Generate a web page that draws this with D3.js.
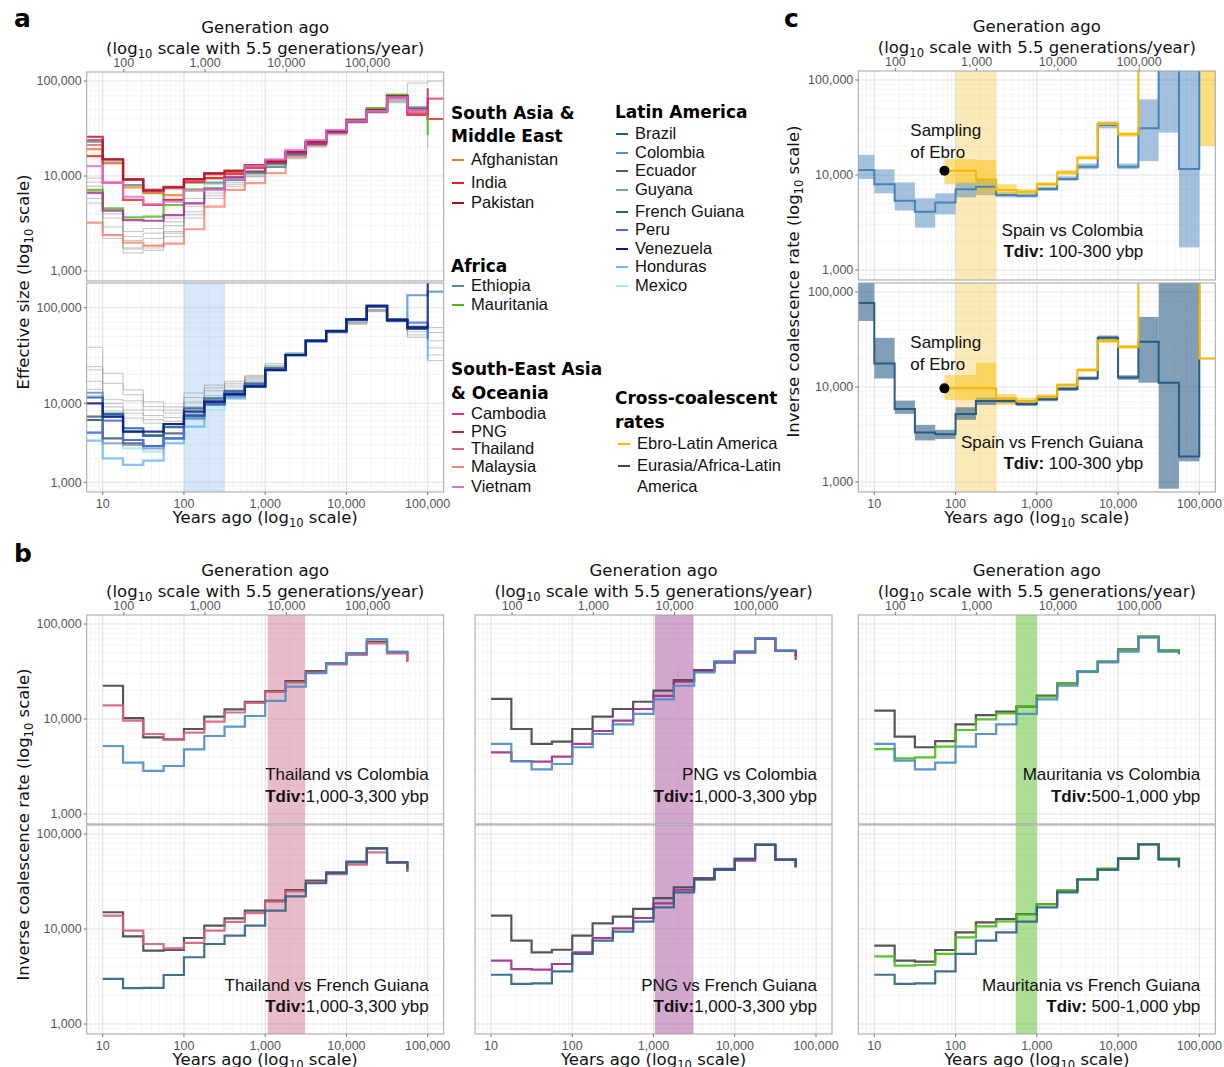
<!DOCTYPE html>
<html>
<head>
<meta charset="utf-8">
<script src="https://cdn.jsdelivr.net/npm/d3@7"></script>
<style>
  body { margin: 0; background: #fff; }
  svg { display: block; }
  text { font-family: "DejaVu Sans", sans-serif; fill: #111; }
  .tick { font-family: "Liberation Sans", Arial, sans-serif; font-size: 12.5px; fill: #555; }
  .atitle { font-size: 16.5px; fill: #111; }
  .note { font-family: "Liberation Sans", Arial, sans-serif; font-size: 17px; fill: #111; }
  .lgtitle { font-weight: bold; font-size: 17px; fill: #000; }
  .lgitem { font-family: "Liberation Sans", Arial, sans-serif; font-size: 16.5px; fill: #111; }
  .plabel { font-weight: bold; font-size: 25px; fill: #000; }
</style>
</head>
<body>
<svg id="fig" width="1224" height="1067"></svg>
<script>
// ---- shared axes ----
const binEdges = [5.6, 10, 17.8, 31.6, 56.2, 100, 178, 316, 562, 1000, 1780, 3160, 5620, 10000, 17800, 31600, 56200, 100000, 160000];
const yearTicks = [10, 100, 1000, 10000, 100000];
const genTicks = [100, 1000, 10000, 100000];
const rateTicks = [1000, 10000, 100000];
const gensPerYear = 5.5;

// ---- panel a, top facet: effective size, bins from 5.6 years ----
const neAfghanistan = [19200, 13600, 7600, 6580, 6300, 8700, 9500, 10700, 12500, 14700, 18000, 23000, 29800, 38300, 48300, 68000, 49500];
const neIndia = [16200, 8500, 5600, 4950, 5600, 8700, 9500, 10500, 12200, 14500, 17500, 22500, 29500, 38500, 49000, 67000, 44000, 39800];
const nePakistan = [25900, 15000, 9230, 7020, 7600, 9300, 10700, 11400, 13000, 14100, 18000, 23000, 29800, 38800, 49500, 69500, 50300];
const neEthiopia = [23000, 13800, 8040, 6680, 5590, 8500, 8500, 9080, 10700, 12500, 16700, 22000, 29300, 38000, 51600, 70000, 52800];
const neMauritania = [7130, 4570, 3670, 3730, 4950, 7250, 7400, 9500, 11000, 13500, 17500, 22500, 29500, 39500, 51500, 72000, 50000];
const neCambodia = [23900, 15000, 9200, 7200, 7700, 9200, 10500, 11200, 12800, 14300, 17800, 22800, 29500, 38500, 49000, 68500, 45000, 65200];
const nePNG = [6680, 4320, 3440, 3380, 3880, 5150, 7250, 9800, 11100, 13600, 17300, 21700, 28700, 37300, 47600, 68000, 49500];
const neThailand = [21200, 14800, 9100, 7000, 7400, 9000, 10400, 11000, 12600, 14400, 17800, 22600, 29400, 38000, 48500, 67500, 47000];
const neMalaysia = [3230, 2390, 1990, 1850, 1940, 2750, 4750, 7130, 8400, 10700, 16000, 21200, 28200, 37300, 47600, 65800, 49500];
const neVietnam = [12700, 8500, 6050, 5070, 5370, 7000, 7200, 9300, 12800, 15000, 18800, 23900, 30500, 38300, 48300, 67300, 49500];
const grayTop = [
  [9500, 4500, 2600, 2800, 3600, 5800, 8200, 9600, 11500, 14000, 17000, 22000, 29000, 38000, 49000, 64000, 95000, 100000],
  [7800, 3600, 2100, 2200, 3000, 4800, 7200, 9000, 10800, 13500, 16500, 21500, 28500, 37500, 48000, 62000, 46000],
  [6500, 2900, 1750, 1850, 2600, 4200, 6600, 8600, 10300, 13000, 16000, 21000, 28000, 37000, 47500, 63000, 52000],
  [5800, 2400, 1550, 1650, 2300, 3900, 6200, 8200, 10000, 12600, 15500, 20500, 27500, 36500, 46500, 61000, 53000],
  [8600, 4000, 2300, 2500, 3300, 5200, 7600, 9200, 11000, 13800, 16800, 21800, 28800, 38000, 48500, 60000, 44000],
  [5200, 2200, 1700, 1750, 2500, 3600, 5800, 7800, 9800, 12300, 15200, 20200, 27000, 36000, 46000, 59000, 51000]
];
const grayTopTails = [null, null, 19600, null, null, null];

// ---- panel a, bottom facet ----
const neBrazil = [11500, 7330, 4830, 3900, 5000, 7000, 10000, 12200, 15000, 22300, 32000, 44900, 57000, 75500, 104000, 73000, 60000];
const neColombia = [12900, 7330, 3430, 2880, 3600, 6450, 9520, 12900, 15600, 23200, 32500, 45500, 57500, 76000, 103000, 76000, 135000, 147000];
const neEcuador = [6780, 3600, 3120, 2880, 4170, 6980, 10400, 12500, 15000, 22300, 32000, 44900, 56500, 75000, 103000, 74000, 60300];
const neGuyana = [6150, 3120, 2970, 2690, 3600, 6450, 9520, 11700, 14800, 22000, 31800, 44500, 56500, 75000, 103000, 74000, 62000];
const neFrenchGuiana = [6150, 6780, 4380, 3900, 5470, 8640, 11270, 13450, 16200, 23200, 32000, 44900, 57000, 75500, 104000, 76000, 63000];
const nePeru = [4250, 6040, 3430, 2880, 3600, 6980, 10400, 12900, 15600, 22300, 32000, 44900, 57000, 75500, 104000, 74300, 70000];
const neVenezuela = [10000, 6780, 4380, 4380, 5470, 7850, 10400, 12500, 15000, 22300, 32000, 44900, 57000, 75500, 105000, 74300, 62000];
const neHonduras = [3370, 2010, 1660, 1880, 3120, 5070, 9520, 11270, 15000, 22300, 31500, 44000, 56000, 74000, 103000, 74000, 62000];
const neMexico = [4250, 3600, 2690, 2440, 3120, 5070, 8230, 11270, 15000, 22300, 31500, 44000, 56000, 74000, 103000, 74000, 62000];
const grayBottom = [
  [38500, 20600, 13800, 10400, 9000, 12800, 15500, 17000, 19500, 26000, 34000, 46000, 58000, 72000, 96000, 76000, 68000, 62000],
  [24200, 16200, 12300, 9070, 8200, 11500, 14500, 16200, 19000, 25000, 33000, 45000, 57000, 71000, 95000, 75000, 64000, 55000],
  [22400, 10900, 10600, 8230, 7500, 10300, 13500, 15500, 18500, 24500, 32500, 45000, 56000, 70000, 94000, 74000, 60000, 45000],
  [17000, 10000, 8230, 6980, 6600, 9000, 12000, 14800, 18000, 24000, 32000, 44500, 55000, 69000, 93000, 73000, 56000, 38000],
  [14000, 9000, 7470, 6200, 5900, 8200, 11000, 14000, 17500, 23500, 31500, 44000, 55000, 68000, 92000, 72000, 52000, 32000],
  [12000, 8000, 6500, 5600, 5200, 7400, 10500, 13500, 17000, 23000, 31000, 43500, 54000, 67000, 91000, 71000, 49000, 28000]
];
// value the curve drops to at 100,000 years
const aTails = { Mauritania: 27000, PNG: 84000, Peru: 47000, Venezuela: 200000, Honduras: 28800 };

// ---- panel b: cross-coalescence, bins 10 .. 56,200 years, last value = end drop ----
const crossThaiCol = [22400, 10200, 6400, 6100, 7850, 10600, 12650, 15200, 19700, 25100, 32000, 38500, 49100, 65200, 49900, 40000];
const thaiCol = [13900, 9600, 6950, 6100, 7180, 9370, 11700, 14800, 19300, 24100, 30800, 37600, 47200, 62500, 49000, 40000];
const colThai = [5200, 3470, 2840, 3200, 4800, 6620, 8300, 10750, 15500, 21900, 30300, 38500, 49100, 69500, 51200, 48000];
const crossThaiFG = [15000, 8370, 5920, 6010, 8040, 10840, 12950, 15600, 19900, 25700, 32300, 39400, 51200, 70700, 50300, 40000];
const thaiFG = [13800, 9600, 6950, 6250, 7130, 9600, 11900, 14700, 19400, 24900, 31000, 37900, 47500, 64100, 49500, 40000];
const fgThai = [2980, 2390, 2400, 3280, 5040, 6950, 8510, 10840, 15600, 22100, 30300, 38800, 50300, 70700, 50300, 42800];
const crossPngCol = [16300, 7850, 5460, 5770, 7850, 10600, 12740, 15200, 19860, 25700, 32800, 40200, 51200, 70700, 52400, 46000];
const pngCol = [4460, 3610, 3560, 4020, 5460, 7480, 9600, 12740, 17500, 24700, 32000, 39200, 49900, 69500, 52000, 41800];
const colPng = [5460, 3610, 2950, 3360, 5040, 6950, 8790, 11300, 16100, 22400, 31000, 40200, 51200, 70700, 52400, 52400];
const crossPngFG = [13800, 7540, 5680, 6050, 8510, 11470, 13500, 16300, 21100, 27500, 34400, 42900, 54600, 77300, 53700, 44700];
const pngFG = [4650, 3790, 3730, 4280, 5680, 8040, 10160, 13060, 18600, 25900, 33600, 42200, 52400, 76600, 53700, 44700];
const fgPng = [3300, 2640, 2680, 3580, 5460, 7540, 9370, 11940, 16900, 24300, 33000, 42000, 54600, 77300, 53700, 44700];
const crossMauCol = [12250, 6520, 5040, 5860, 8790, 11000, 11940, 13500, 17600, 23700, 31500, 40200, 54100, 73500, 52400, 48000];
const mauCol = [4830, 3850, 3950, 5120, 7660, 9900, 11470, 13500, 17200, 23700, 31500, 40200, 53000, 73500, 53000, 49000];
const colMau = [5460, 3640, 2950, 3470, 5120, 6950, 8790, 11300, 16100, 22400, 31500, 39500, 51200, 72000, 51200, 50000];
const crossMauFG = [6680, 4650, 4530, 6010, 9230, 11750, 12740, 14390, 18300, 25300, 33600, 42900, 55900, 78500, 54600, 44700];
const mauFG = [5150, 4110, 4180, 5460, 8170, 10670, 12040, 14160, 18300, 25300, 33600, 42900, 55900, 78500, 55200, 45000];
const fgMau = [3300, 2640, 2680, 3580, 5460, 7540, 9230, 11940, 16900, 24300, 33000, 42000, 54600, 77300, 53700, 44700];

// ---- panel c: Spain vs Latin America, bins from 5.6 years (1e6 = off the top) ----
const spainColRate = [11300, 7980, 5370, 4110, 5150, 7060, 7540, 6150, 6050, 7130, 9080, 12250, 33600, 12250, 31000, 1e6, 11560, 1e6];
const spainColLo = [9080, 6410, 4220, 2790, 3850, 5820, 6150, 5820, 5800, 6800, 8700, 11500, 31000, 11500, 14000, 27900, 1730, null];
const spainColHi = [16300, 11470, 8370, 5680, 6410, 8370, 9230, 6600, 6400, 7500, 9700, 13200, 36400, 13200, 62500, 1e6, 1e6, null];
const spainFGRate = [76700, 17700, 5880, 3320, 3190, 5210, 7130, 7130, 6640, 7430, 9530, 12330, 32900, 12620, 29900, 11100, 1860, 1e6];
const spainFGLo = [49600, 12300, 5210, 2740, 2830, 4510, 6470, 6700, 6300, 7100, 9100, 11800, 31000, 11900, 11100, 850, 1650, null];
const spainFGHi = [1e6, 32900, 7190, 3990, 3540, 6120, 7730, 7500, 7000, 7800, 10000, 12900, 34800, 13300, 54700, 1e6, 1e6, null];
// Ebro curves start at the sampling date (73 years), then follow bins from 100 years
const ebroStart = 73;
const ebroColRate = [11100, 11100, 8900, 6950, 6680, 7980, 10600, 15200, 34400, 26800, 1e6, 1e6, 1e6, 1e6];
const ebroColLo = [8000, 8000, 6300, 6310, 6300, 7600, 10000, 14500, 32500, 25300, null, null, null, 20200];
const ebroColHi = [14700, 14700, 14400, 7980, 7100, 8400, 11300, 16000, 36400, 28300, null, null, null, 1e6];
const ebroFGRate = [9680, 9680, 9680, 7600, 7130, 7930, 10500, 15070, 30600, 26500, 1e6, 1e6, 1e6, 20000];
const ebroFGLo = [7310, 7310, 7310, 6470, 6700, 7500, 10000, 14400, 29000, 25200, null, null, null, null];
const ebroFGHi = [13370, 13370, 18000, 8460, 7700, 8400, 11000, 15800, 32300, 27700, null, null, null, null];

// ---- divergence bands (years) ----
const bandA = [100, 320];
const bandC = [100, 320];
const bandThai = [1070, 3100];
const bandPng = [1040, 3100];
const bandMau = [550, 1000];

// ---- legend ----
const southAsiaNames = ["Afghanistan", "India", "Pakistan"];
const southAsiaColors = ["#f47a22", "#ee1c1c", "#a50f15"];
const africaNames = ["Ethiopia", "Mauritania"];
const africaColors = ["#4f8f8f", "#4cbb17"];
const seAsiaNames = ["Cambodia", "PNG", "Thailand", "Malaysia", "Vietnam"];
const seAsiaColors = ["#e0386c", "#9d2a8e", "#d6688a", "#f4846f", "#d870d8"];
const latinNames = ["Brazil", "Colombia", "Ecuador", "Guyana", "French Guiana", "Peru", "Venezuela", "Honduras", "Mexico"];
const latinColors = ["#1f5b9c", "#5791c7", "#545a78", "#7b9bc5", "#2e6489", "#4a6be0", "#0c1a80", "#70b8f0", "#a8e6f0"];
const crossColors = ["#f5b800", "#444444"];

const colorOf = {};
[[southAsiaNames, southAsiaColors], [africaNames, africaColors], [seAsiaNames, seAsiaColors], [latinNames, latinColors]]
  .forEach(([n, c]) => n.forEach((k, i) => { colorOf[k] = c[i]; }));

const svg = d3.select("#fig");
const FW = 357, FH = 209;
let clipCount = 0;

function xScale(x0) {
  return d3.scaleLog().domain([10, 100000]).range([x0 + 16, x0 + 341]);
}
function yScale(top) {
  return d3.scaleLog().domain([1000, 100000]).range([top + 199, top + 9]);
}

const lineGen = (x, y) => d3.line().x((d) => x(d[0])).y((d) => y(d[1])).curve(d3.curveStepAfter);

// step points: values from bin `start`, optional first edge override and end drop
function stepPoints(values, start, from, tail) {
  const pts = values.map((v, i) => [i === 0 && from ? from : binEdges[start + i], v]);
  pts.push([binEdges[start + values.length], tail != null ? tail : values[values.length - 1]]);
  return pts;
}

function drawFacet(p) {
  const x = xScale(p.x0);
  const y = p.y || yScale(p.top);
  const id = "clip" + (clipCount++);
  svg.append("clipPath").attr("id", id)
    .append("rect").attr("x", p.x0).attr("y", p.top).attr("width", FW).attr("height", FH);
  const g = svg.append("g");
  g.append("rect").attr("x", p.x0).attr("y", p.top).attr("width", FW).attr("height", FH).attr("fill", "#fff");
  const inner = g.append("g").attr("clip-path", `url(#${id})`);

  const minor = [], major = [];
  for (let k = 0; k <= 6; k++) for (let m = 1; m <= 9; m++) (m === 1 ? major : minor).push(m * Math.pow(10, k));
  inner.selectAll(null).data(minor).join("line")
    .attr("x1", (d) => x(d)).attr("x2", (d) => x(d)).attr("y1", p.top).attr("y2", p.top + FH)
    .attr("stroke", "#f0f0f0").attr("stroke-width", 0.7);
  inner.selectAll(null).data(minor).join("line")
    .attr("y1", (d) => y(d)).attr("y2", (d) => y(d)).attr("x1", p.x0).attr("x2", p.x0 + FW)
    .attr("stroke", "#f0f0f0").attr("stroke-width", 0.7);
  inner.selectAll(null).data(major).join("line")
    .attr("x1", (d) => x(d)).attr("x2", (d) => x(d)).attr("y1", p.top).attr("y2", p.top + FH)
    .attr("stroke", "#e2e2e2").attr("stroke-width", 1.1);
  inner.selectAll(null).data(major).join("line")
    .attr("y1", (d) => y(d)).attr("y2", (d) => y(d)).attr("x1", p.x0).attr("x2", p.x0 + FW)
    .attr("stroke", "#e2e2e2").attr("stroke-width", 1.1);

  if (p.band) {
    inner.append("rect").attr("x", x(p.band[0])).attr("width", x(p.band[1]) - x(p.band[0]))
      .attr("y", p.top).attr("height", FH).attr("fill", p.bandColor).attr("opacity", p.bandOpacity);
  }

  (p.ribbons || []).forEach((r) => {
    const cells = r.lo.map((lo, i) => ({ lo, hi: r.hi[i], a: i === 0 && r.from ? r.from : binEdges[r.start + i], b: binEdges[r.start + i + 1] }))
      .filter((c) => c.lo != null);
    inner.append("g").selectAll("rect").data(cells).join("rect")
      .attr("x", (c) => x(c.a)).attr("width", (c) => x(c.b) - x(c.a))
      .attr("y", (c) => Math.max(y(c.hi), p.top - 5))
      .attr("height", (c) => y(c.lo) - Math.max(y(c.hi), p.top - 5))
      .attr("fill", r.color).attr("opacity", r.opacity);
  });

  const line = lineGen(x, y);
  (p.lines || []).forEach((s) => {
    inner.append("path").datum(stepPoints(s.values, s.start, s.from, s.tail))
      .attr("d", line).attr("fill", "none").attr("stroke", s.color)
      .attr("stroke-width", s.width || 2).attr("opacity", s.opacity == null ? 0.85 : s.opacity)
      .attr("stroke-linejoin", "miter");
  });

  (p.dots || []).forEach((d) => {
    inner.append("circle").attr("cx", x(d[0])).attr("cy", y(d[1])).attr("r", 5).attr("fill", "#000");
  });

  g.append("rect").attr("x", p.x0).attr("y", p.top).attr("width", FW).attr("height", FH)
    .attr("fill", "none").attr("stroke", "#a3a3a3").attr("stroke-width", 1);

  if (p.yLabels) {
    rateTicks.forEach((t) => {
      g.append("line").attr("x1", p.x0 - 3).attr("x2", p.x0).attr("y1", y(t)).attr("y2", y(t)).attr("stroke", "#777");
      g.append("text").attr("class", "tick").attr("x", p.x0 - 5).attr("y", y(t)).attr("dy", "0.35em")
        .attr("text-anchor", "end").text(d3.format(",")(t));
    });
  }
  if (p.bottomAxis) {
    const yb = p.top + FH;
    yearTicks.forEach((t) => {
      g.append("line").attr("x1", x(t)).attr("x2", x(t)).attr("y1", yb).attr("y2", yb + 3).attr("stroke", "#777");
      g.append("text").attr("class", "tick").attr("x", x(t)).attr("y", yb + 11.5).attr("dy", "0.35em")
        .attr("text-anchor", "middle").text(d3.format(",")(t));
    });
    const t = g.append("text").attr("class", "atitle").attr("x", p.x0 + FW / 2).attr("y", yb + 25)
      .attr("dy", "0.35em").attr("text-anchor", "middle");
    logText(t, "Years ago (log", " scale)");
  }
  if (p.topAxis) {
    genTicks.forEach((gn) => {
      const xx = x(gn / gensPerYear);
      g.append("line").attr("x1", xx).attr("x2", xx).attr("y1", p.top - 3).attr("y2", p.top).attr("stroke", "#777");
      g.append("text").attr("class", "tick").attr("x", xx).attr("y", p.top - 9.5).attr("dy", "0.35em")
        .attr("text-anchor", "middle").text(d3.format(",")(gn));
    });
    g.append("text").attr("class", "atitle").attr("x", p.x0 + FW / 2).attr("y", p.top - 45)
      .attr("dy", "0.35em").attr("text-anchor", "middle").text("Generation ago");
    const t = g.append("text").attr("class", "atitle").attr("x", p.x0 + FW / 2).attr("y", p.top - 24)
      .attr("dy", "0.35em").attr("text-anchor", "middle");
    logText(t, "(log", " scale with 5.5 generations/year)");
  }
  (p.notes || []).forEach((n) => {
    const t = g.append("text").attr("class", "note").attr("x", p.x0 + n.dx).attr("y", p.top + n.dy)
      .attr("dy", "0.35em").attr("text-anchor", n.anchor || "end");
    if (n.bold) t.append("tspan").attr("font-weight", "bold").text(n.bold);
    t.append("tspan").text(n.text);
  });
}

function logText(t, pre, post) {
  t.append("tspan").text(pre);
  t.append("tspan").attr("font-size", "0.7em").attr("dy", 4).text("10");
  t.append("tspan").attr("dy", -4).text(post);
}

function yTitle(xc, yc, pre, post) {
  const t = svg.append("text").attr("class", "atitle").attr("text-anchor", "middle")
    .attr("transform", `translate(${xc},${yc}) rotate(-90)`).attr("dy", "0.35em");
  logText(t, pre, post);
}

// ---------------- panel a ----------------
const aX0 = 86.7;
const topSeries = [
  ["Malaysia", neMalaysia], ["Ethiopia", neEthiopia], ["Afghanistan", neAfghanistan], ["India", neIndia],
  ["Mauritania", neMauritania], ["Thailand", neThailand], ["Cambodia", neCambodia], ["Pakistan", nePakistan],
  ["PNG", nePNG], ["Vietnam", neVietnam]
];
const bottomSeries = [
  ["Mexico", neMexico], ["Honduras", neHonduras], ["Guyana", neGuyana], ["Ecuador", neEcuador],
  ["Colombia", neColombia], ["Peru", nePeru], ["Brazil", neBrazil], ["French Guiana", neFrenchGuiana],
  ["Venezuela", neVenezuela]
];
drawFacet({
  x0: aX0, top: 72, yLabels: true, topAxis: true,
  lines: grayTop.map((v, i) => ({ values: v, start: 0, tail: grayTopTails[i], color: "#8c8c8c", width: 1, opacity: 0.5 }))
    .concat(topSeries.map(([n, v]) => ({ values: v, start: 0, tail: aTails[n], color: colorOf[n], width: 2.2, opacity: 0.8 })))
});
drawFacet({
  x0: aX0, top: 283, yLabels: true, bottomAxis: true,
  y: d3.scaleLog().domain([1000, 10000, 100000]).range([482.3, 403.3, 307.7]),
  band: bandA, bandColor: "#8fc1ec", bandOpacity: 0.36,
  lines: grayBottom.map((v) => ({ values: v, start: 0, color: "#8c8c8c", width: 1, opacity: 0.5 }))
    .concat(bottomSeries.map(([n, v]) => ({ values: v, start: 0, tail: aTails[n], color: colorOf[n], width: 2.2, opacity: 0.85 })))
});
yTitle(23.5, 282, "Effective size (log", " scale)");

// ---------------- panel c ----------------
const cX0 = 858.3;
const ebroNotes = [
  { dx: 52, dy: 59, text: "Sampling", anchor: "start" },
  { dx: 52, dy: 81, text: "of Ebro", anchor: "start" }
];
drawFacet({
  x0: cX0, top: 71, yLabels: true, topAxis: true,
  band: bandC, bandColor: "#f5c842", bandOpacity: 0.38,
  ribbons: [
    { lo: spainColLo, hi: spainColHi, start: 0, color: "#4a86bd", opacity: 0.5 },
    { lo: ebroColLo, hi: ebroColHi, start: 4, from: ebroStart, color: "#f8c21a", opacity: 0.55 }
  ],
  lines: [
    { values: spainColRate, start: 0, color: "#4a82b8", width: 2, opacity: 1 },
    { values: ebroColRate, start: 4, from: ebroStart, color: "#f5b800", width: 2, opacity: 1 }
  ],
  dots: [[ebroStart, ebroColRate[0]]],
  notes: ebroNotes.concat([
    { dx: 285, dy: 159, text: "Spain vs Colombia" },
    { dx: 285, dy: 180, bold: "Tdiv:", text: " 100-300 ybp" }
  ])
});
drawFacet({
  x0: cX0, top: 283, yLabels: true, bottomAxis: true,
  band: bandC, bandColor: "#f5c842", bandOpacity: 0.38,
  ribbons: [
    { lo: spainFGLo, hi: spainFGHi, start: 0, color: "#2d5f86", opacity: 0.6 },
    { lo: ebroFGLo, hi: ebroFGHi, start: 4, from: ebroStart, color: "#f8c21a", opacity: 0.55 }
  ],
  lines: [
    { values: spainFGRate, start: 0, color: "#2a5b82", width: 2, opacity: 1 },
    { values: ebroFGRate, start: 4, from: ebroStart, color: "#f5b800", width: 2, opacity: 1 }
  ],
  dots: [[ebroStart, ebroFGRate[0]]],
  notes: ebroNotes.concat([
    { dx: 285, dy: 159.5, text: "Spain vs French Guiana" },
    { dx: 285, dy: 180.5, bold: "Tdiv:", text: " 100-300 ybp" }
  ])
});
yTitle(793.5, 281.5, "Inverse coalescence rate (log", " scale)");

// ---------------- panel b ----------------
const bColumns = [
  { x0: 86.7, band: bandThai, bandColor: "#c9607f", bandOpacity: 0.42, yLabels: true,
    top: [crossThaiCol, thaiCol, colThai], bottom: [crossThaiFG, thaiFG, fgThai],
    colors: ["#d65f80", "#4a8ac4", "#2c6185"],
    names: ["Thailand vs Colombia", "Thailand vs French Guiana"], tdiv: ["1,000-3,300 ybp", "1,000-3,300 ybp"] },
  { x0: 475, band: bandPng, bandColor: "#9c3d8e", bandOpacity: 0.45,
    top: [crossPngCol, pngCol, colPng], bottom: [crossPngFG, pngFG, fgPng],
    colors: ["#9d2a8e", "#4a8ac4", "#2c6185"],
    names: ["PNG vs Colombia", "PNG vs French Guiana"], tdiv: ["1,000-3,300 ybp", "1,000-3,300 ybp"] },
  { x0: 858.3, band: bandMau, bandColor: "#5cbf2a", bandOpacity: 0.5,
    top: [crossMauCol, mauCol, colMau], bottom: [crossMauFG, mauFG, fgMau],
    colors: ["#4cbb17", "#4a8ac4", "#2c6185"],
    names: ["Mauritania vs Colombia", "Mauritania vs French Guiana"], tdiv: ["500-1,000 ybp", " 500-1,000 ybp"] }
];
bColumns.forEach((c) => {
  const mk = (set, blue) => [
    { values: set[0].slice(0, -1), tail: set[0][set[0].length - 1], start: 1, color: "#444", width: 2.2, opacity: 0.9 },
    { values: set[1].slice(0, -1), tail: set[1][set[1].length - 1], start: 1, color: c.colors[0], width: 2.2, opacity: 0.9 },
    { values: set[2].slice(0, -1), tail: set[2][set[2].length - 1], start: 1, color: blue, width: 2.2, opacity: 0.9 }
  ];
  drawFacet({
    x0: c.x0, top: 615, yLabels: c.yLabels, topAxis: true,
    band: c.band, bandColor: c.bandColor, bandOpacity: c.bandOpacity,
    lines: mk(c.top, c.colors[1]),
    notes: [
      { dx: 342, dy: 159, text: c.names[0] },
      { dx: 342, dy: 181, bold: "Tdiv:", text: c.tdiv[0] }
    ]
  });
  drawFacet({
    x0: c.x0, top: 825, yLabels: c.yLabels, bottomAxis: true,
    band: c.band, bandColor: c.bandColor, bandOpacity: c.bandOpacity,
    lines: mk(c.bottom, c.colors[2]),
    notes: [
      { dx: 342, dy: 160, text: c.names[1] },
      { dx: 342, dy: 181, bold: "Tdiv:", text: c.tdiv[1] }
    ]
  });
});
yTitle(23.5, 824.5, "Inverse coalescence rate (log", " scale)");

// ---------------- legend ----------------
const lg = svg.append("g");
function lgTitle(x, y, s) {
  lg.append("text").attr("class", "lgtitle").attr("x", x).attr("y", y).attr("dy", "0.35em").text(s);
}
function lgItems(x, ys, names, colors) {
  names.forEach((n, i) => {
    lg.append("line").attr("x1", x).attr("x2", x + 12).attr("y1", ys[i] + 1).attr("y2", ys[i] + 1)
      .attr("stroke", colors[i]).attr("stroke-width", 2);
    lg.append("text").attr("class", "lgitem").attr("x", x + 19).attr("y", ys[i]).attr("dy", "0.35em").text(n);
  });
}
lgTitle(451, 113, "South Asia &");
lgTitle(451, 136, "Middle East");
lgItems(452, [159, 182, 202], southAsiaNames, southAsiaColors);
lgTitle(451, 266, "Africa");
lgItems(452, [285, 304], africaNames, africaColors);
lgTitle(451, 369, "South-East Asia");
lgTitle(451, 393, "& Oceania");
lgItems(452, [413, 431, 448, 466, 486], seAsiaNames, seAsiaColors);
lgTitle(615, 112, "Latin America");
lgItems(616, [133, 152, 170, 189, 211, 229, 248, 266, 285], latinNames, latinColors);
lgTitle(615, 398, "Cross-coalescent");
lgTitle(615, 422, "rates");
lgItems(618, [443, 465], ["Ebro-Latin America", "Eurasia/Africa-Latin"], crossColors);
lg.append("text").attr("class", "lgitem").attr("x", 637).attr("y", 486).attr("dy", "0.35em").text("America");

// panel letters
svg.append("text").attr("class", "plabel").attr("x", 14).attr("y", 27).text("a");
svg.append("text").attr("class", "plabel").attr("x", 14).attr("y", 562).text("b");
svg.append("text").attr("class", "plabel").attr("x", 784).attr("y", 27).text("c");
</script>
</body>
</html>
